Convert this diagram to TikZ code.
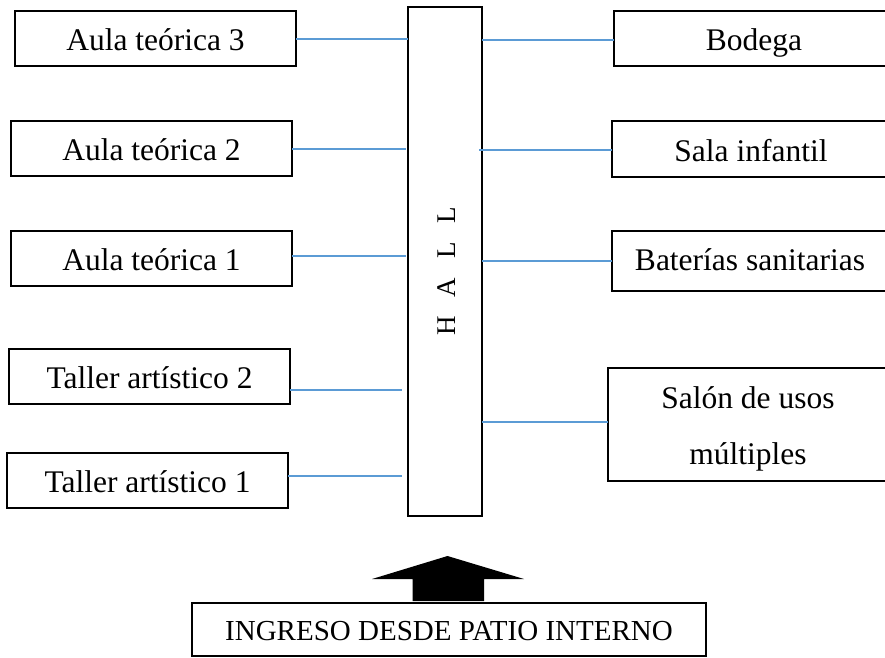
\documentclass[tikz,border=0pt]{standalone}
\usepackage{fontspec}
\setmainfont{Liberation Serif}
\usetikzlibrary{calc}
\definecolor{linkblue}{HTML}{5B9BD5}
\begin{document}
\begin{tikzpicture}[x=1pt,y=-1pt,
  roombox/.style={draw=black, line width=1.3pt, rectangle, inner sep=0pt, outer sep=0pt,
    minimum height=55pt, text height=26pt, text depth=2pt,
    font=\fontsize{31.5pt}{36pt}\selectfont},
  hallbox/.style={draw=black, line width=1.1pt, rectangle, inner sep=0pt, outer sep=0pt},
  link/.style={draw=linkblue, line width=1.4pt}
]
\useasboundingbox (0,0) rectangle (885,657);

% left rooms
\node[roombox, minimum width=281pt] (a3) at (155.5,38.5) {Aula teórica 3};
\node[roombox, minimum width=281pt] (a2) at (151.5,148.5) {Aula teórica 2};
\node[roombox, minimum width=281pt] (a1) at (151.5,258.5) {Aula teórica 1};
\node[roombox, minimum width=281pt] (t2) at (149.5,376.5) {Taller artístico 2};
\node[roombox, minimum width=281pt] (t1) at (147.5,480.5) {Taller artístico 1};

% right rooms
\node[roombox, minimum width=280pt] (bod) at (754,38.5) {Bodega};
\node[roombox, minimum width=278pt, minimum height=56pt] (sala) at (751,149) {Sala infantil};
\node[roombox, minimum width=276pt, minimum height=60pt, text height=21.4pt] (bat) at (750,261) {Baterías sanitarias};
\node[roombox, minimum width=280pt, minimum height=113pt, text height=82pt, text depth=2pt] (salon) at (748,424.5)
  {\parbox[b]{260pt}{\centering\fontsize{31.5pt}{56.5pt}\selectfont Salón de usos\\múltiples}};

% hall
\node[hallbox, minimum width=74pt, minimum height=509pt] (hall) at (445,261.5) {};
\node[rotate=90, anchor=base, inner sep=0pt, font=\fontsize{27pt}{30pt}\selectfont] (halltext) at (455,271)
  {H\hspace{19pt}A\hspace{19pt}L\hspace{19pt}L};

% entrance
\node[roombox, minimum width=514pt, minimum height=53pt, text height=23pt, text depth=2pt,
  font=\fontsize{29pt}{34pt}\selectfont] (ing) at (449,629.5) {INGRESO DESDE PATIO INTERNO\hspace{14pt}};

% arrow
\fill[black] (447.5,556) -- (524,579) -- (484,579) -- (484,601) -- (412.5,601) -- (412.5,579) -- (372,579) -- cycle;

% free ends of connectors
\coordinate (ea3) at (408,39);
\coordinate (ea2) at (406,149);
\coordinate (ea1) at (406,256);
\coordinate (et2) at (402,390);
\coordinate (et1) at (402,476);
\coordinate (sbod) at (482,40);
\coordinate (ssala) at (479,150);
\coordinate (sbat) at (482,261);
\coordinate (ssalon) at (482,422);

% connectors
\draw[link] (a3.east |- ea3) -- (ea3);
\draw[link] (a2.east |- ea2) -- (ea2);
\draw[link] (a1.east |- ea1) -- (ea1);
\draw[link] (t2.east |- et2) -- (et2);
\draw[link] (t1.east |- et1) -- (et1);
\draw[link] (sbod) -- (bod.west |- sbod);
\draw[link] (ssala) -- (sala.west |- ssala);
\draw[link] (sbat) -- (bat.west |- sbat);
\draw[link] (ssalon) -- (salon.west |- ssalon);
\end{tikzpicture}
\end{document}
